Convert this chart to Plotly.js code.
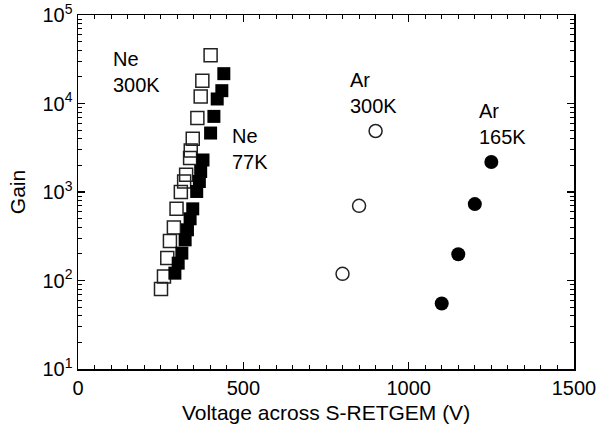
<!DOCTYPE html>
<html>
<head>
<meta charset="utf-8">
<script src="https://cdn.plot.ly/plotly-3.0.1.min.js"></script>
<style>html,body{margin:0;padding:0;background:#fff;}#chart{width:597px;height:431px;}</style>
</head>
<body>
<div id="chart"></div>
<script>
// Ne 300K (open squares)
const ne300V = [251, 260, 270, 278, 290, 298, 311, 321, 327, 339, 341, 347, 361, 371, 376, 401];
const ne300G = [80, 111, 179, 280, 396, 645, 997, 1315, 1566, 2417, 2948, 4000, 6855, 12030, 18100, 35000];
// Ne 77K (filled squares)
const ne77V = [293, 303, 314, 324, 331, 339, 347, 359, 367, 371, 378, 401, 411, 421, 435, 441];
const ne77G = [121, 157, 204, 288, 374, 498, 645, 1014, 1315, 1706, 2300, 4637, 7150, 11250, 13960, 21730];
// Ar 300K (open circles)
const ar300V = [800, 850, 900];
const ar300G = [119, 698, 4890];
// Ar 165K (filled circles)
const ar165V = [1100, 1150, 1200, 1250];
const ar165G = [55, 198, 730, 2180];
// Y tick labels
const yTickVals = [10, 100, 1000, 10000, 100000];
const yTickText = ['10<sup>1</sup>', '10<sup>2</sup>', '10<sup>3</sup>', '10<sup>4</sup>', '10<sup>5</sup>'];

const FONT = 'Liberation Sans, Arial, sans-serif';

const traces = [
  {x: ne300V, y: ne300G, mode: 'markers', type: 'scatter',
   marker: {symbol: 'square-open', size: 13, color: '#222', line: {width: 1.5, color: '#222'}}},
  {x: ne77V, y: ne77G, mode: 'markers', type: 'scatter',
   marker: {symbol: 'square', size: 13, color: '#000'}},
  {x: ar300V, y: ar300G, mode: 'markers', type: 'scatter',
   marker: {symbol: 'circle-open', size: 13, color: '#222', line: {width: 1.5, color: '#222'}}},
  {x: ar165V, y: ar165G, mode: 'markers', type: 'scatter',
   marker: {symbol: 'circle', size: 14, color: '#000'}}
];

const ann = (x, y, text) => ({x: x, y: y, xref: 'x', yref: 'y', text: text, showarrow: false,
  xanchor: 'left', yanchor: 'top', align: 'left', font: {family: FONT, size: 20, color: '#000'}});

const layout = {
  width: 597, height: 431,
  margin: {l: 78, r: 23, t: 15, b: 62},
  paper_bgcolor: '#fff', plot_bgcolor: '#fff',
  showlegend: false,
  font: {family: FONT, size: 20, color: '#000'},
  xaxis: {
    range: [0, 1500], dtick: 500, tick0: 0,
    showline: true, linecolor: '#000', linewidth: 1.5, mirror: 'ticks',
    ticks: 'inside', ticklen: 7, tickwidth: 1.2, tickcolor: '#000',
    minor: {dtick: 50, ticks: 'inside', ticklen: 4, tickwidth: 1, tickcolor: '#000', showgrid: false},
    showgrid: false, zeroline: false,
    tickfont: {family: FONT, size: 20, color: '#000'},
    title: {text: 'Voltage across S-RETGEM (V)', font: {family: FONT, size: 21, color: '#000'}, standoff: 8}
  },
  yaxis: {
    type: 'log', range: [1, 5],
    tickmode: 'array', tickvals: yTickVals, ticktext: yTickText,
    showline: true, linecolor: '#000', linewidth: 1.5, mirror: 'ticks',
    ticks: 'inside', ticklen: 7, tickwidth: 1.2, tickcolor: '#000',
    minor: {dtick: 'D1', ticks: 'inside', ticklen: 4, tickwidth: 1, tickcolor: '#000', showgrid: false},
    showgrid: false, zeroline: false,
    tickfont: {family: FONT, size: 20, color: '#000'},
    title: {text: 'Gain', font: {family: FONT, size: 21, color: '#000'}, standoff: 11}
  },
  annotations: [
    ann(100, 4.654, 'Ne<br>300K'),
    ann(460, 3.783, 'Ne<br>77K'),
    ann(816, 4.408, 'Ar<br>300K'),
    ann(1206, 4.066, 'Ar<br>165K')
  ]
};

Plotly.newPlot('chart', traces, layout, {displayModeBar: false, staticPlot: true});
</script>
</body>
</html>
